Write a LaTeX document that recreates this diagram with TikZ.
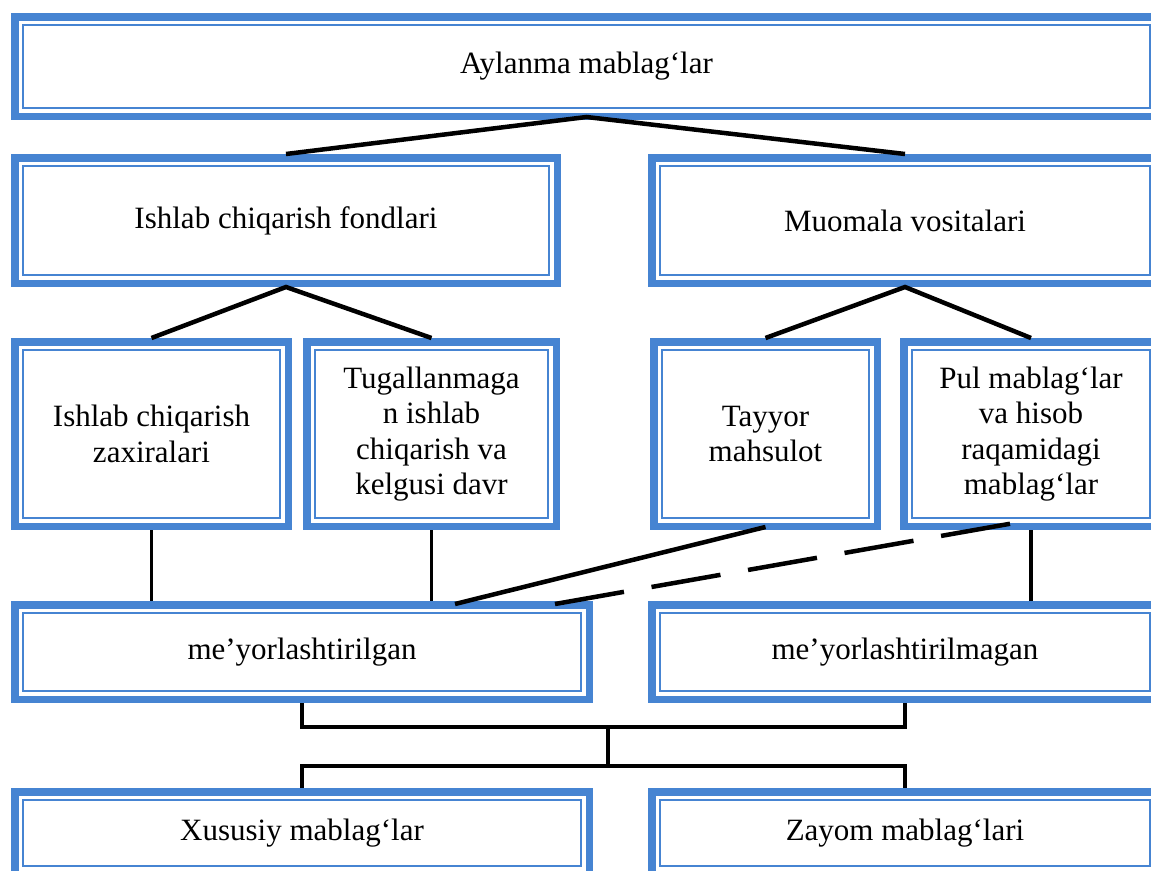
\documentclass[tikz,border=0pt]{standalone}
\usepackage{fontspec}
\setmainfont{Liberation Serif}
\usepackage{tikz}
\definecolor{boxblue}{RGB}{70,132,210}

\begin{document}
\begin{tikzpicture}[x=1pt,y=-1pt,
  box/.style={draw=boxblue,line width=7.5pt,inner sep=0pt,align=center,
    font=\fontsize{31}{35.5}\selectfont,
    path picture={\draw[boxblue,line width=2.2pt]
      ([xshift=8pt,yshift=8pt]path picture bounding box.south west) rectangle
      ([xshift=-8pt,yshift=-8pt]path picture bounding box.north east);}},
  link/.style={line width=4.5pt},
  vline/.style={line width=3.5pt}]
\path[use as bounding box,clip] (0,0) rectangle (1151,870);

\node[box,minimum width=1143.5pt,minimum height=99.5pt] (aylanma) at (586.5,66.5) {Aylanma mablag‘lar};
\node[box,minimum width=542.5pt,minimum height=125.5pt] (fond) at (286,220.5) {Ishlab chiqarish fondlari};
\node[box,minimum width=506.5pt,minimum height=125.5pt] (muomala) at (905,220.5) {Muomala vositalari};

\node[box,minimum width=273.5pt,minimum height=184.5pt] (zaxira) at (151.5,434) {Ishlab chiqarish\\zaxiralari};
\node[box,minimum width=249.5pt,minimum height=184.5pt] (tugal) at (431.5,434) {Tugallanmaga\\n ishlab\\chiqarish va\\kelgusi davr};
\node[box,minimum width=223.5pt,minimum height=184.5pt] (tayyor) at (765.5,434) {Tayyor\\mahsulot};
\node[box,minimum width=254.5pt,minimum height=184.5pt] (pul) at (1031,434) {Pul mablag‘lar\\va hisob\\raqamidagi\\mablag‘lar};

\node[box,minimum width=574.5pt,minimum height=94.5pt] (meyor) at (302,652) {me’yorlashtirilgan};
\node[box,minimum width=506.5pt,minimum height=94.5pt] (meyormas) at (905,652) {me’yorlashtirilmagan};

\node[box,minimum width=574.5pt,minimum height=82.5pt] (xususiy) at (302,833) {Xususiy mablag‘lar};
\node[box,minimum width=506.5pt,minimum height=82.5pt] (zayom) at (905,833) {Zayom mablag‘lari};

\draw[link] (fond.north) -- ([yshift=3pt]aylanma.south) -- (muomala.north);
\draw[link] (zaxira.north) -- (fond.south) -- (tugal.north);
\draw[link] (tayyor.north) -- (muomala.south) -- (pul.north);

\draw[vline] (zaxira.south) -- (zaxira.south |- meyor.north);
\draw[vline] (tugal.south) -- (tugal.south |- meyor.north);
\draw[vline] (pul.south) -- (pul.south |- meyormas.north);

\coordinate (solidend) at (455,604);
\coordinate (dashend) at (555,604);
\coordinate (dashstart) at ([xshift=-11pt,yshift=8pt]pul.south);
\draw[link] ([yshift=3pt]tayyor.south) -- (solidend);
\draw[link,dash pattern=on 70pt off 28pt] (dashend) -- (dashstart);

\coordinate (bar1) at (608,727);
\coordinate (bar2) at (608,766);
\draw[vline] (meyor.south) |- (bar1) -| (meyormas.south);
\draw[vline] (bar1) -- (bar2);
\draw[vline] (xususiy.north) |- (bar2) -| (zayom.north);
\end{tikzpicture}
\end{document}
